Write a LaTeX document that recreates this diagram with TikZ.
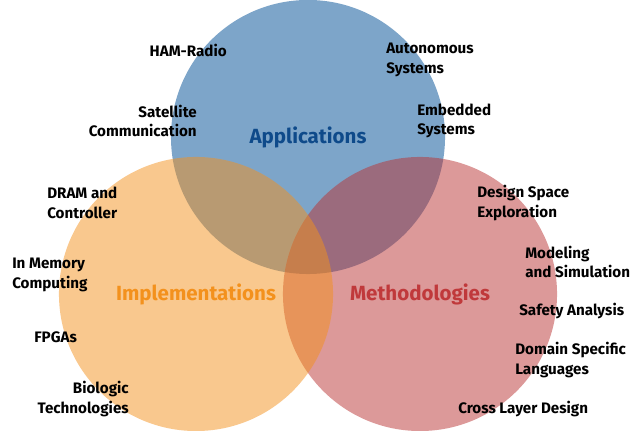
\documentclass[tikz,border=0pt]{standalone}
\usepackage{fontspec}
\setmainfont{Fira Sans}
\usepackage{tikz}

\definecolor{appblue}{RGB}{19,91,157}
\definecolor{implorange}{RGB}{243,145,29}
\definecolor{methred}{RGB}{185,51,51}
\definecolor{appfont}{RGB}{14,74,138}
\definecolor{methfont}{RGB}{192,57,59}

\tikzset{
    topic/.style={font=\bfseries\fontsize{10.8}{13.8}\selectfont, inner sep=0pt},
    area/.style={font=\bfseries\fontsize{14.6}{18}\selectfont, inner sep=0pt}
}

\begin{document}
\begin{tikzpicture}[x=0.025cm, y=-0.025cm]
        \useasboundingbox (0, 0) rectangle (640, 431);
        \fill[appblue, opacity=0.55] (308, 137) circle (3.425cm);
        \fill[methred, opacity=0.5] (420, 294) circle (3.425cm);
        \fill[implorange, opacity=0.5] (196, 294) circle (3.425cm);
        \node[area, text=appfont] (app) at (308, 137) {Applications};
        \node[area, text=implorange] (impl) at (196, 294) {Implementations};
        \node[area, text=methfont] (meth) at (420, 294) {Methodologies};
        \node[topic, anchor=east] (ham) at (227, 50) {HAM-Radio};
        \node[topic, anchor=east, align=right] (sat) at (197, 121) {Satellite\\Communication};
        \node[topic, anchor=west, align=left] (auto) at (386, 60) {Autonomous\\Systems};
        \node[topic, anchor=west, align=left] (emb) at (417, 121) {Embedded\\Systems};
        \node[topic, anchor=west, align=left] (dram) at (47, 203) {DRAM and\\Controller};
        \node[topic, anchor=west, align=left] (inmem) at (12, 275) {In Memory\\Computing};
        \node[topic, anchor=west] (fpga) at (34, 337) {FPGAs};
        \node[topic, anchor=east, align=right] (bio) at (129, 399) {Biologic\\Technologies};
        \node[topic, anchor=west, align=left] (dse) at (477, 203) {Design Space\\Exploration};
        \node[topic, anchor=west, align=left] (model) at (525, 262) {Modeling\\and Simulation};
        \node[topic, anchor=west] (safety) at (519, 311) {Safety Analysis};
        \node[topic, anchor=west, align=left] (dsl) at (515, 360) {Domain Specific\\Languages};
        \node[topic, anchor=west] (cross) at (458, 409) {Cross Layer Design};
    \end{tikzpicture}
\end{document}
